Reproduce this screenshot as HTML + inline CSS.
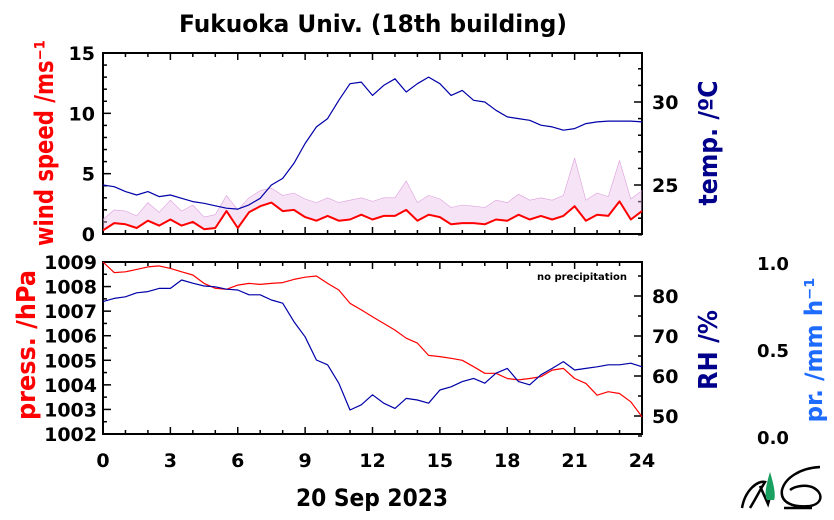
<!DOCTYPE html>
<html><head><meta charset="utf-8">
<style>
html,body{margin:0;padding:0;background:#fff;}
svg{display:block;font-family:"DejaVu Sans","Liberation Sans",sans-serif;font-weight:bold;}
</style></head>
<body>
<svg id="chart" width="834" height="520" viewBox="0 0 834 520">
<text x="373" y="32" text-anchor="middle" font-size="24" fill="#000" textLength="388" lengthAdjust="spacingAndGlyphs">Fukuoka Univ. (18th building)</text>
<g id="topPanel"></g>
<g id="botPanel"></g>
<text transform="translate(53,143) rotate(-90)" text-anchor="middle" font-size="26" fill="#ff0000" textLength="206" lengthAdjust="spacingAndGlyphs">wind speed /ms⁻¹</text>
<text transform="translate(35,345) rotate(-90)" text-anchor="middle" font-size="26" fill="#ff0000" textLength="150" lengthAdjust="spacingAndGlyphs">press. /hPa</text>
<text transform="translate(717,143) rotate(-90)" text-anchor="middle" font-size="26" fill="#00008b" textLength="125" lengthAdjust="spacingAndGlyphs">temp. /ºC</text>
<text transform="translate(717,350) rotate(-90)" text-anchor="middle" font-size="26" fill="#00008b" textLength="80" lengthAdjust="spacingAndGlyphs">RH /%</text>
<text transform="translate(822,350) rotate(-90)" text-anchor="middle" font-size="24" fill="#1e6cff" textLength="145" lengthAdjust="spacingAndGlyphs">pr. /mm h⁻¹</text>
<text x="773" y="270" text-anchor="middle" font-size="18">1.0</text>
<text x="773" y="357" text-anchor="middle" font-size="18">0.5</text>
<text x="773" y="444" text-anchor="middle" font-size="18">0.0</text>
<text x="627" y="280" text-anchor="end" font-size="10">no precipitation</text>
<text x="372" y="506" text-anchor="middle" font-size="24" textLength="152" lengthAdjust="spacingAndGlyphs">20 Sep 2023</text>
<g>
<path d="M742,508 C745,490 758,480 765,482 C760,490 755,500 750,508 M760,486 L768,504 L772,490" fill="none" stroke="#000" stroke-width="2.5"/>
<path d="M770,472 C766,485 764,496 767,500 L774,500 C776,496 774,485 770,472 Z" fill="#1aa060"/>
<path d="M820,467 C800,468 785,478 782,490 C780,502 792,508 810,506 C822,504 824,494 814,488 C806,484 795,486 790,490 M784,508 L812,508" fill="none" stroke="#000" stroke-width="2.5"/>
</g>
</svg>
<script>
const hours = [0,0.5,1,1.5,2,2.5,3,3.5,4,4.5,5,5.5,6,6.5,7,7.5,8,8.5,9,9.5,10,10.5,11,11.5,12,12.5,13,13.5,14,14.5,15,15.5,16,16.5,17,17.5,18,18.5,19,19.5,20,20.5,21,21.5,22,22.5,23,23.5,24];
const temperature = [25.0,24.9,24.6,24.4,24.6,24.3,24.4,24.2,24.0,23.9,23.75,23.6,23.55,23.8,24.2,25.0,25.4,26.3,27.5,28.5,29.0,30.1,31.1,31.2,30.4,31.0,31.4,30.6,31.1,31.5,31.1,30.4,30.7,30.1,30.0,29.5,29.1,29.0,28.9,28.6,28.5,28.3,28.4,28.7,28.8,28.85,28.85,28.85,28.8];
const windAvg = [0.3,0.9,0.8,0.5,1.1,0.7,1.2,0.7,1.0,0.4,0.5,1.9,0.5,1.8,2.3,2.6,1.9,2.0,1.4,1.1,1.5,1.1,1.2,1.6,1.2,1.5,1.5,2.0,1.1,1.6,1.4,0.8,0.9,0.9,0.8,1.2,1.1,1.6,1.2,1.5,1.2,1.5,2.3,1.1,1.6,1.5,2.7,1.2,1.9];
const windGust = [1.2,2.0,1.9,1.5,2.6,1.8,2.8,1.9,2.4,1.4,1.6,3.2,2.0,3.0,3.6,3.8,3.2,3.4,2.9,2.6,3.0,2.6,2.8,3.0,2.7,3.0,3.0,4.4,2.6,3.2,2.9,2.2,2.4,2.3,2.2,2.8,2.6,3.3,2.8,3.0,2.8,3.2,6.3,2.8,3.4,3.1,6.1,2.9,3.6];
const pressure = [1009.0,1008.57,1008.6,1008.7,1008.8,1008.84,1008.74,1008.6,1008.47,1008.13,1007.93,1007.89,1008.06,1008.13,1008.09,1008.13,1008.16,1008.29,1008.38,1008.43,1008.13,1007.86,1007.32,1007.05,1006.77,1006.5,1006.23,1005.9,1005.7,1005.2,1005.15,1005.08,1005.0,1004.74,1004.47,1004.47,1004.26,1004.2,1004.26,1004.33,1004.6,1004.67,1004.26,1004.06,1003.58,1003.72,1003.65,1003.31,1002.7];
const humidity = [78.6,79.4,79.8,80.8,81.1,81.9,81.9,84.0,83.2,82.5,82.3,81.7,81.5,80.3,80.3,79.0,78.2,73.6,69.8,64.0,62.8,58.2,51.5,52.8,55.3,53.2,51.9,54.4,54.0,53.2,56.5,57.3,58.6,59.4,58.2,60.7,61.9,58.6,57.8,60.3,61.9,63.6,61.5,61.9,62.3,62.8,62.8,63.2,62.3];
const xTicks = [0,3,6,9,12,15,18,21,24];
const windTicks = [0,5,10,15];
const tempTicks = [25,30];
const pressTicks = [1002,1003,1004,1005,1006,1007,1008,1009];
const rhTicks = [50,60,70,80];

const NS = "http://www.w3.org/2000/svg";
const X0=103,X1=642,T0=53,T1=234,B0=262,B1=434;
const xs = h => X0 + (X1-X0)*h/24;
const yWind = v => T1 - (T1-T0)*v/15;
const yTemp = v => 185 - (v-25)*16.6;
const yPress = v => B0 + (1009-v)*(B1-B0)/7;
const yRH = v => 296 + (80-v)*4.0;

function mk(parent, tag, attrs){const e=document.createElementNS(NS,tag);for(const k in attrs)e.setAttribute(k,attrs[k]);parent.appendChild(e);return e;}
const topG = document.getElementById('topPanel'), botG = document.getElementById('botPanel');

function frame(g, y0, y1, name){
  const r = mk(g,'rect',{x:X0,y:y0,width:X1-X0,height:y1-y0,fill:'none',stroke:'#000','stroke-width':2});
  
  
  for(let h=0;h<=24;h++){
    const L = h%3===0?7:4;
    mk(g,'line',{x1:xs(h),x2:xs(h),y1:y1,y2:y1-L,stroke:'#000','stroke-width':1.5});
    mk(g,'line',{x1:xs(h),x2:xs(h),y1:y0,y2:y0+L,stroke:'#000','stroke-width':1.5});
  }
}
function yticks(g, from, to, step, major, fy, side){
  for(let v=from; v<=to+1e-9; v+=step){
    const isMaj = Math.abs(v/major - Math.round(v/major))<1e-6;
    const L = isMaj?8:4, yy=fy(v);
    if(side==='l') mk(g,'line',{x1:X0,x2:X0+L,y1:yy,y2:yy,stroke:'#000','stroke-width':1.5});
    else mk(g,'line',{x1:X1,x2:X1-L,y1:yy,y2:yy,stroke:'#000','stroke-width':1.5});
  }
}
function label(g, tx, ty, txt, anchor, name){
  const t = mk(g,'text',{x:tx,y:ty,'text-anchor':anchor,'font-size':19,fill:'#000'});
  t.textContent = txt;
  
  
}
function line(g, hs, ys, color, w, name){
  const p = mk(g,'polyline',{points:hs.map((h,i)=>xs(h).toFixed(1)+','+ys[i].toFixed(1)).join(' '),fill:'none',stroke:color,'stroke-width':w,'stroke-linejoin':'round'});
  
  
  return p;
}

frame(topG,T0,T1,'top-plot-frame');
yticks(topG,0,15,1,5,yWind,'l');
yticks(topG,22,32.9,1,5,yTemp,'r');
windTicks.forEach(v=>label(topG,X0-8,yWind(v)+7,String(v),'end','wind-tick-'+v));
tempTicks.forEach(v=>label(topG,X1+10,yTemp(v)+7,String(v),'start','temp-tick-'+v));
const bandPts = hours.map((h,i)=>xs(h).toFixed(1)+','+yWind(windGust[i]).toFixed(1));
for(let i=hours.length-1;i>=0;i--) bandPts.push(xs(hours[i]).toFixed(1)+','+yWind(windAvg[i]).toFixed(1));
const band = mk(topG,'polygon',{points:bandPts.join(' '),fill:'#e8b8e8',opacity:0.4});


line(topG,hours,windGust.map(yWind),'#dca0dc',0.6,'wind-gust-line');
line(topG,hours,temperature.map(yTemp),'#0000a8',1.2,'temperature-line');
line(topG,hours,windAvg.map(yWind),'#ff0000',2,'wind-avg-line');

frame(botG,B0,B1,'bottom-plot-frame');
yticks(botG,1002,1009,0.5,1,yPress,'l');
yticks(botG,45,85,5,10,yRH,'r');
pressTicks.forEach(v=>label(botG,X0-6,yPress(v)+7,String(v),'end','pressure-tick-'+v));
rhTicks.forEach(v=>label(botG,X1+10,yRH(v)+7,String(v),'start','rh-tick-'+v));
line(botG,hours,pressure.map(yPress),'#ff0000',1.2,'pressure-line');
line(botG,hours,humidity.map(yRH),'#0000a8',1.2,'humidity-line');
xTicks.forEach(h=>label(botG,xs(h),467,String(h),'middle','time-tick-'+h));
</script>
</body></html>
